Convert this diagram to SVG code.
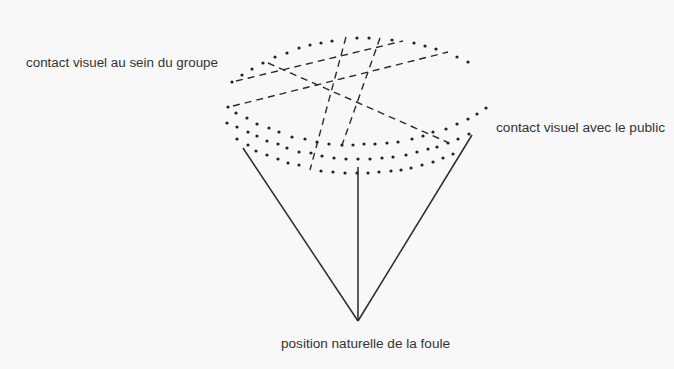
<svg xmlns="http://www.w3.org/2000/svg" width="674" height="369" viewBox="0 0 674 369">
<style>
.bg{fill:#f8f8f8}
.d{fill:#222}
.dash{stroke:#2a2a2a;stroke-width:1.4;stroke-dasharray:7 5;fill:none}
.solid{stroke:#2a2a2a;stroke-width:1.5;fill:none}
.lbl{font-family:"Liberation Sans",Arial,sans-serif;font-size:12.5px;fill:#333}
</style>
<rect class="bg" x="0" y="0" width="674" height="369"/>
<g id="dots">
<g id="arc-top">
<circle class="d" cx="232" cy="82" r="1.6"/><circle class="d" cx="242" cy="75" r="1.6"/><circle class="d" cx="252" cy="69" r="1.6"/><circle class="d" cx="263" cy="63" r="1.6"/><circle class="d" cx="275" cy="57" r="1.6"/><circle class="d" cx="287" cy="53" r="1.6"/><circle class="d" cx="299" cy="48" r="1.6"/><circle class="d" cx="310" cy="45" r="1.6"/><circle class="d" cx="321" cy="43" r="1.6"/><circle class="d" cx="332" cy="41" r="1.6"/><circle class="d" cx="357" cy="38" r="1.6"/><circle class="d" cx="369" cy="38" r="1.6"/><circle class="d" cx="392" cy="40" r="1.6"/><circle class="d" cx="414" cy="43" r="1.6"/><circle class="d" cx="425" cy="46" r="1.6"/><circle class="d" cx="436" cy="49" r="1.6"/><circle class="d" cx="457" cy="57" r="1.6"/><circle class="d" cx="468" cy="62" r="1.6"/>
</g>
<g id="arc-a">
<circle class="d" cx="228" cy="107" r="1.6"/><circle class="d" cx="236" cy="113" r="1.6"/><circle class="d" cx="247" cy="118" r="1.6"/><circle class="d" cx="257" cy="124" r="1.6"/><circle class="d" cx="269" cy="128" r="1.6"/><circle class="d" cx="279" cy="132" r="1.6"/><circle class="d" cx="292" cy="137" r="1.6"/><circle class="d" cx="305" cy="139" r="1.6"/><circle class="d" cx="317" cy="142" r="1.6"/><circle class="d" cx="329" cy="144" r="1.6"/><circle class="d" cx="342" cy="145" r="1.6"/><circle class="d" cx="353" cy="145" r="1.6"/><circle class="d" cx="364" cy="144" r="1.6"/><circle class="d" cx="375" cy="144" r="1.6"/><circle class="d" cx="387" cy="143" r="1.6"/><circle class="d" cx="398" cy="142" r="1.6"/><circle class="d" cx="412" cy="139" r="1.6"/><circle class="d" cx="423" cy="136" r="1.6"/><circle class="d" cx="433" cy="132" r="1.6"/><circle class="d" cx="446" cy="129" r="1.6"/><circle class="d" cx="457" cy="124" r="1.6"/><circle class="d" cx="468" cy="119" r="1.6"/><circle class="d" cx="477" cy="114" r="1.6"/><circle class="d" cx="486" cy="108" r="1.6"/>
</g>
<g id="arc-b">
<circle class="d" cx="227" cy="123" r="1.6"/><circle class="d" cx="237" cy="127" r="1.6"/><circle class="d" cx="248" cy="132" r="1.6"/><circle class="d" cx="257" cy="136" r="1.6"/><circle class="d" cx="267" cy="141" r="1.6"/><circle class="d" cx="278" cy="144" r="1.6"/><circle class="d" cx="287" cy="148" r="1.6"/><circle class="d" cx="299" cy="152" r="1.6"/><circle class="d" cx="311" cy="153" r="1.6"/><circle class="d" cx="322" cy="156" r="1.6"/><circle class="d" cx="334" cy="158" r="1.6"/><circle class="d" cx="346" cy="159" r="1.6"/><circle class="d" cx="358" cy="159" r="1.6"/><circle class="d" cx="370" cy="159" r="1.6"/><circle class="d" cx="382" cy="158" r="1.6"/><circle class="d" cx="393" cy="157" r="1.6"/><circle class="d" cx="406" cy="155" r="1.6"/><circle class="d" cx="417" cy="152" r="1.6"/><circle class="d" cx="428" cy="149" r="1.6"/><circle class="d" cx="437" cy="147" r="1.6"/><circle class="d" cx="448" cy="143" r="1.6"/><circle class="d" cx="458" cy="139" r="1.6"/><circle class="d" cx="469" cy="134" r="1.6"/>
</g>
<g id="arc-c">
<circle class="d" cx="237" cy="139" r="1.6"/><circle class="d" cx="248" cy="145" r="1.6"/><circle class="d" cx="256" cy="151" r="1.6"/><circle class="d" cx="267" cy="155" r="1.6"/><circle class="d" cx="278" cy="159" r="1.6"/><circle class="d" cx="288" cy="163" r="1.6"/><circle class="d" cx="299" cy="165" r="1.6"/><circle class="d" cx="321" cy="171" r="1.6"/><circle class="d" cx="333" cy="172" r="1.6"/><circle class="d" cx="345" cy="173" r="1.6"/><circle class="d" cx="357" cy="173" r="1.6"/><circle class="d" cx="368" cy="173" r="1.6"/><circle class="d" cx="379" cy="172" r="1.6"/><circle class="d" cx="391" cy="171" r="1.6"/><circle class="d" cx="401" cy="170" r="1.6"/><circle class="d" cx="411" cy="168" r="1.6"/><circle class="d" cx="422" cy="165" r="1.6"/><circle class="d" cx="433" cy="162" r="1.6"/><circle class="d" cx="443" cy="158" r="1.6"/><circle class="d" cx="453" cy="154" r="1.6"/>
</g>
</g>
<g id="connectors">
<line class="dash" x1="346" y1="37" x2="310" y2="170"/>
<line class="dash" x1="380" y1="38" x2="341" y2="148"/>
<line class="dash" x1="236" y1="81" x2="403" y2="41"/>
<line class="dash" x1="233" y1="106" x2="448" y2="52"/>
<line class="dash" x1="268" y1="63" x2="447" y2="142"/>
<line class="solid" x1="243" y1="148" x2="358" y2="321"/>
<line class="solid" x1="358" y1="167" x2="358" y2="321"/>
<line class="solid" x1="472" y1="135" x2="358" y2="321"/>
</g>
<g id="label-groupe"><text class="lbl" x="26" y="67" textLength="192" lengthAdjust="spacingAndGlyphs">contact visuel au sein du groupe</text></g>
<g id="label-public"><text class="lbl" x="496" y="132" textLength="169" lengthAdjust="spacingAndGlyphs">contact visuel avec le public</text></g>
<g id="label-foule"><text class="lbl" x="281" y="348" textLength="169" lengthAdjust="spacingAndGlyphs">position naturelle de la foule</text></g>
</svg>
